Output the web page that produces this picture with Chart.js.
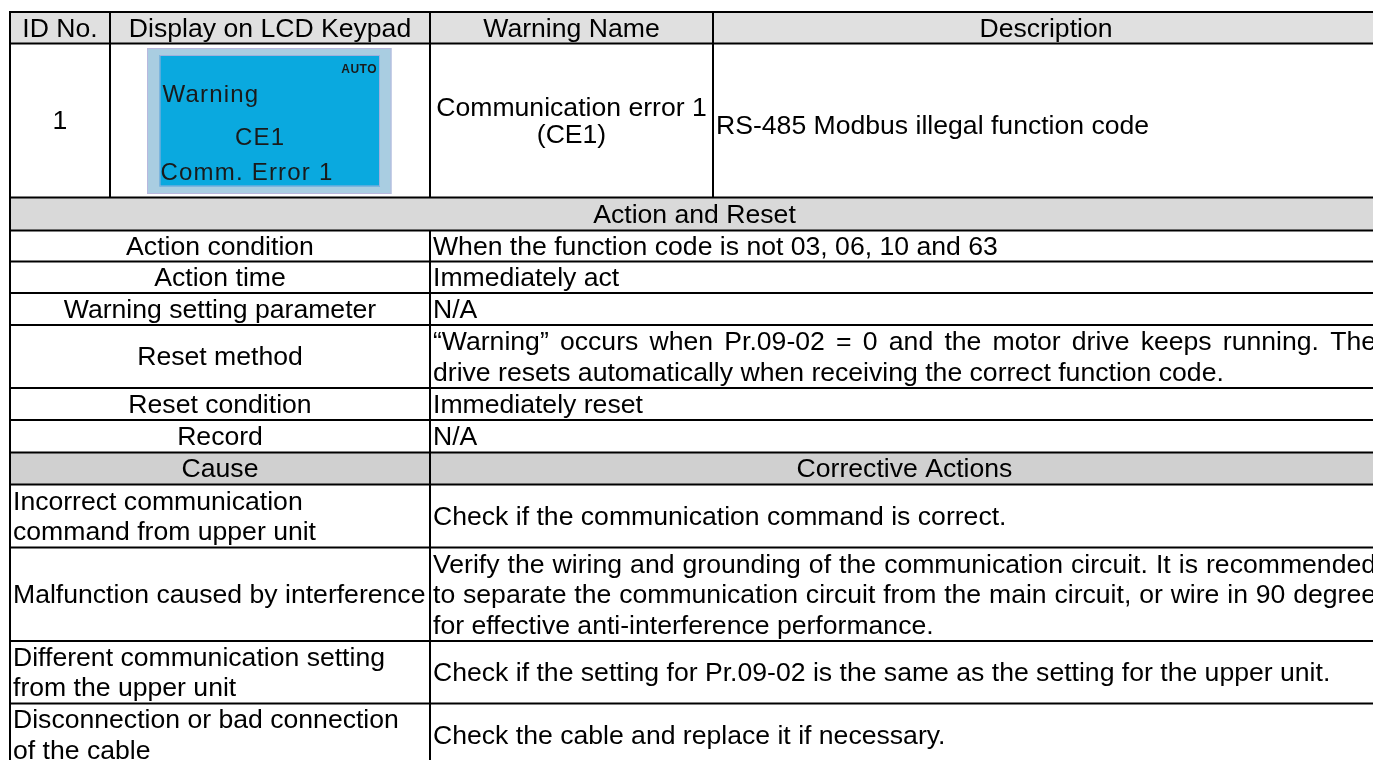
<!DOCTYPE html>
<html>
<head>
<meta charset="utf-8">
<title>CE1 - Communication error 1</title>
<script src="https://cdn.jsdelivr.net/npm/chart.js@4.4.1/dist/chart.umd.min.js"></script>
<style>
	body { margin: 0; background: #fff; }
	canvas { display: block; }
</style>
</head>
<body>
<canvas id="warningTable" width="1373" height="760"></canvas>
<script>
// ---- table content ----
const headerLabels = ["ID No.", "Display on LCD Keypad", "Warning Name", "Description"];
const warningId = "1";
const lcdStatus = "AUTO";
const lcdLines = ["Warning", "CE1", "Comm. Error 1"];
const warningName = ["Communication error 1", "(CE1)"];
const warningDescription = ["RS-485 Modbus illegal function code"];

const actionTitle = "Action and Reset";
const actionItems = ["Action condition", "Action time", "Warning setting parameter",
	"Reset method", "Reset condition", "Record"];
const actionValues = [
	["When the function code is not 03, 06, 10 and 63"],
	["Immediately act"],
	["N/A"],
	["\u201cWarning\u201d occurs when Pr.09-02 = 0 and the motor drive keeps running. The",
		"drive resets automatically when receiving the correct function code."],
	["Immediately reset"],
	["N/A"]
];

const causeHeader = ["Cause", "Corrective Actions"];
const causes = [
	["Incorrect communication", "command from upper unit"],
	["Malfunction caused by interference"],
	["Different communication setting", "from the upper unit"],
	["Disconnection or bad connection", "of the cable"]
];
const correctiveActions = [
	["Check if the communication command is correct."],
	["Verify the wiring and grounding of the communication circuit. It is recommended",
		"to separate the communication circuit from the main circuit, or wire in 90 degree",
		"for effective anti-interference performance."],
	["Check if the setting for Pr.09-02 is the same as the setting for the upper unit."],
	["Check the cable and replace it if necessary."]
];

// ---- layout, in page units that go through the chart scales ----
const colEdges = [10, 110, 430, 713, 1379];
const topRowEdges = [12, 43.5, 197.5];
const actionRowEdges = [197.5, 230.5, 261.5, 293, 325, 388, 420, 452.5];
const causeRowEdges = [452.5, 484.5, 547.5, 641, 703.5, 766];

const FONT = '26.6px "Liberation Sans", Arial, sans-serif';
const LINE_H = 30.5;
const CAP_OFF = 8.8;

//Draws some lines of text inside a cell. align is "center" or "left".
function cellText(ctx, sx, sy, lines, x0, x1, y0, y1, align, justify, lineH) {
	let lh = lineH || LINE_H;
	ctx.font = FONT;
	ctx.fillStyle = "#000";
	ctx.textBaseline = "alphabetic";
	let cy = (sy(y0) + sy(y1)) / 2;
	let left = sx(x0) + 3;
	let right = sx(x1) - 3;
	lines.forEach(function (line, i) {
		let base = cy + (i - (lines.length - 1) / 2) * lh + CAP_OFF;
		if (align == "center") {
			ctx.textAlign = "center";
			ctx.fillText(line, (sx(x0) + sx(x1)) / 2, base);
		} else if (justify && i < lines.length - 1) {
			let words = line.split(" ");
			let total = 0;
			for (let w of words) total += ctx.measureText(w).width;
			let gap = (right - left - total) / (words.length - 1);
			let xx = left;
			ctx.textAlign = "left";
			for (let w of words) {
				ctx.fillText(w, xx, base);
				xx += ctx.measureText(w).width + gap;
			}
		} else {
			ctx.textAlign = "left";
			ctx.fillText(line, left, base);
		}
	});
}

const tablePlugin = {
	id: "warningTable",
	beforeDraw(chart) {
		let ctx = chart.ctx;
		let sx = v => chart.scales.x.getPixelForValue(v);
		let sy = v => chart.scales.y.getPixelForValue(v);
		let xl = colEdges[0], xr = colEdges[4];

		ctx.save();
		ctx.fillStyle = "#fff";
		ctx.fillRect(0, 0, chart.width, chart.height);

		//gray header bands
		function band(y0, y1, color) {
			ctx.fillStyle = color;
			ctx.fillRect(sx(xl), sy(y0), sx(xr) - sx(xl), sy(y1) - sy(y0));
		}
		band(topRowEdges[0], topRowEdges[1], "#e0e0e0");
		band(actionRowEdges[0], actionRowEdges[1], "#d9d9d9");
		band(causeRowEdges[0], causeRowEdges[1], "#d0d0d0");

		//LCD keypad picture
		ctx.fillStyle = "#a9cde1";
		ctx.fillRect(sx(147), sy(48), sx(391.5) - sx(147), sy(194) - sy(48));
		ctx.strokeStyle = "#b8b8de";
		ctx.lineWidth = 1;
		ctx.strokeRect(sx(147) + 0.5, sy(48) + 0.5, sx(391.5) - sx(147) - 1, sy(194) - sy(48) - 1);
		ctx.fillStyle = "#0aa9df";
		ctx.fillRect(sx(159.5), sy(55), sx(380) - sx(159.5), sy(186.5) - sy(55));
		ctx.strokeStyle = "#9fb0dc";
		ctx.strokeRect(sx(159.5) + 0.5, sy(55) + 0.5, sx(380) - sx(159.5) - 1, sy(186.5) - sy(55) - 1);

		ctx.fillStyle = "#1a1a1a";
		ctx.textBaseline = "alphabetic";
		ctx.font = 'bold 12px "Liberation Sans", Arial, sans-serif';
		ctx.textAlign = "right";
		ctx.letterSpacing = "0.5px";
		ctx.fillText(lcdStatus, sx(377), sy(73));
		ctx.textAlign = "left";
		ctx.font = '24px "Liberation Sans", Arial, sans-serif';
		ctx.letterSpacing = "1.2px";
		ctx.fillText(lcdLines[0], sx(162.5), sy(102));
		ctx.fillText(lcdLines[1], sx(235), sy(145));
		ctx.fillText(lcdLines[2], sx(160.5), sy(180));
		ctx.letterSpacing = "0px";

		//header row
		headerLabels.forEach(function (label, i) {
			cellText(ctx, sx, sy, [label], colEdges[i], colEdges[i + 1],
				topRowEdges[0], topRowEdges[1], "center");
		});

		//warning row
		cellText(ctx, sx, sy, [warningId], colEdges[0], colEdges[1], topRowEdges[1], topRowEdges[2], "center");
		cellText(ctx, sx, sy, warningName, colEdges[2], colEdges[3], topRowEdges[1], topRowEdges[2], "center", false, 27);
		cellText(ctx, sx, sy, warningDescription, colEdges[3], colEdges[4], topRowEdges[1] + 4.5, topRowEdges[2] + 4.5, "left");

		//action and reset block
		cellText(ctx, sx, sy, [actionTitle], xl, xr, actionRowEdges[0], actionRowEdges[1], "center");
		actionItems.forEach(function (item, i) {
			let y0 = actionRowEdges[i + 1], y1 = actionRowEdges[i + 2];
			cellText(ctx, sx, sy, [item], xl, colEdges[2], y0, y1, "center");
			cellText(ctx, sx, sy, actionValues[i], colEdges[2], xr, y0, y1, "left", true);
		});

		//cause and corrective actions block
		cellText(ctx, sx, sy, [causeHeader[0]], xl, colEdges[2], causeRowEdges[0], causeRowEdges[1], "center");
		cellText(ctx, sx, sy, [causeHeader[1]], colEdges[2], xr, causeRowEdges[0], causeRowEdges[1], "center");
		causes.forEach(function (cause, i) {
			let y0 = causeRowEdges[i + 1], y1 = causeRowEdges[i + 2];
			cellText(ctx, sx, sy, cause, xl, colEdges[2], y0, y1, "left");
			cellText(ctx, sx, sy, correctiveActions[i], colEdges[2], xr, y0, y1, "left", true);
		});

		//grid lines
		ctx.strokeStyle = "#000";
		ctx.lineWidth = 2;
		function hline(yv) {
			ctx.beginPath();
			ctx.moveTo(sx(xl) - 1, sy(yv));
			ctx.lineTo(sx(xr) + 1, sy(yv));
			ctx.stroke();
		}
		function vline(xv, y0, y1) {
			ctx.beginPath();
			ctx.moveTo(sx(xv), sy(y0));
			ctx.lineTo(sx(xv), sy(y1));
			ctx.stroke();
		}
		let allRows = new Set(topRowEdges.concat(actionRowEdges, causeRowEdges));
		allRows.forEach(hline);
		let bottom = causeRowEdges[causeRowEdges.length - 1];
		vline(xl, topRowEdges[0], bottom);
		vline(xr, topRowEdges[0], bottom);
		vline(colEdges[1], topRowEdges[0], topRowEdges[2]);
		vline(colEdges[3], topRowEdges[0], topRowEdges[2]);
		vline(colEdges[2], topRowEdges[0], topRowEdges[2]);
		vline(colEdges[2], actionRowEdges[1], bottom);
		ctx.restore();
	}
};

var ctx = document.getElementById("warningTable").getContext("2d");
var warningChart = new Chart(ctx, {
	type: "scatter",
	data: { datasets: [] },
	options: {
		responsive: false,
		animation: false,
		layout: { padding: 0 },
		plugins: { legend: { display: false }, tooltip: { enabled: false } },
		scales: {
			x: { type: "linear", min: 0, max: 1373, display: false },
			y: { type: "linear", min: 0, max: 760, reverse: true, display: false }
		}
	},
	plugins: [tablePlugin]
});
</script>
</body>
</html>
